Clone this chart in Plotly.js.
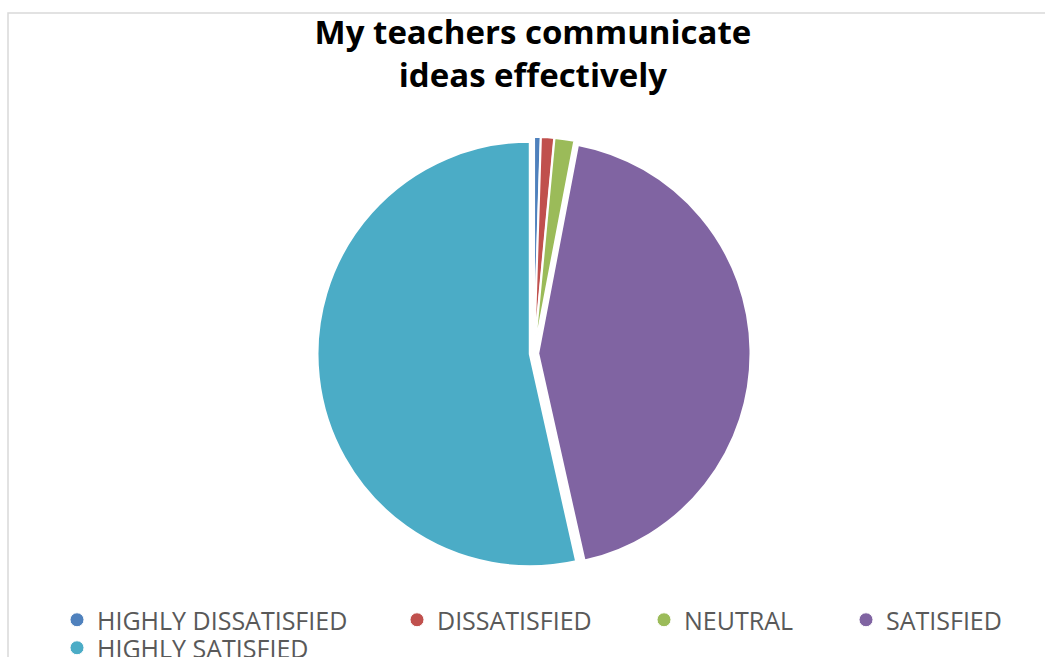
<!DOCTYPE html>
<html><head><meta charset="utf-8">
<script src="https://cdn.plot.ly/plotly-3.0.1.min.js"></script>
<style>body{margin:0;background:#fff}#chart{width:1045px;height:657px}</style>
</head><body><div id="chart"></div>
<script>
const labels = ["HIGHLY DISSATISFIED", "DISSATISFIED", "NEUTRAL", "SATISFIED", "HIGHLY SATISFIED"];
const values = [0.5, 1, 1.5, 43.5, 53.5];
const colors = ["#4F81BD", "#C0504D", "#9BBB59", "#8064A2", "#4BACC6"];
const titleText = "My teachers communicate<br>ideas effectively";

const traces = [{
  type: "pie",
  labels: labels,
  values: values,
  sort: false,
  direction: "clockwise",
  rotation: 0,
  textinfo: "none",
  hoverinfo: "label+value",
  pull: labels.map(() => 0.02),
  marker: {colors: colors, line: {color: "#ffffff", width: 2}},
  domain: {x: [0.2, 0.822], y: [0.1324, 0.7915]},
  showlegend: false
}];
const legendNames = ["legend", "legend2", "legend3", "legend4", "legend5"];
labels.forEach((l, i) => {
  traces.push({
    type: "scatter", mode: "markers", x: [null], y: [null], name: l,
    legend: legendNames[i],
    marker: {symbol: "circle", size: 14, color: colors[i], line: {color: "#ffffff", width: 1}},
    showlegend: true, hoverinfo: "skip"
  });
});

// legend placement (text start px, row top px)
const legPos = [[57, 597], [397, 597], [644, 597], [846, 597], [57, 625]];
const layout = {
  width: 1045, height: 657,
  margin: {l: 0, r: 0, t: 0, b: 0, autoexpand: false},
  paper_bgcolor: "#ffffff", plot_bgcolor: "#ffffff",
  xaxis: {visible: false}, yaxis: {visible: false},
  title: {text: titleText, font: {family: "Open Sans", size: 33, color: "#000000", weight: "bold"},
          x: 0.51, xanchor: "center", y: 1 - 44/657, yanchor: "middle", yref: "container"},
  shapes: [{type: "rect", xref: "paper", yref: "paper", x0: 8/1045, x1: 1.05, y0: -0.05, y1: 1 - 13/657,
            line: {color: "#d9d9d9", width: 1.5}, fillcolor: "rgba(0,0,0,0)", layer: "below"}]
};
legendNames.forEach((n, i) => {
  layout[n] = {orientation: "h", x: legPos[i][0] / 1045, xanchor: "left",
               y: 1 - legPos[i][1] / 657, yanchor: "top",
               font: {family: "Open Sans", size: 25, color: "#595959"},
               bgcolor: "rgba(0,0,0,0)"};
});
Plotly.newPlot("chart", traces, layout, {displayModeBar: false});
</script></body></html>
